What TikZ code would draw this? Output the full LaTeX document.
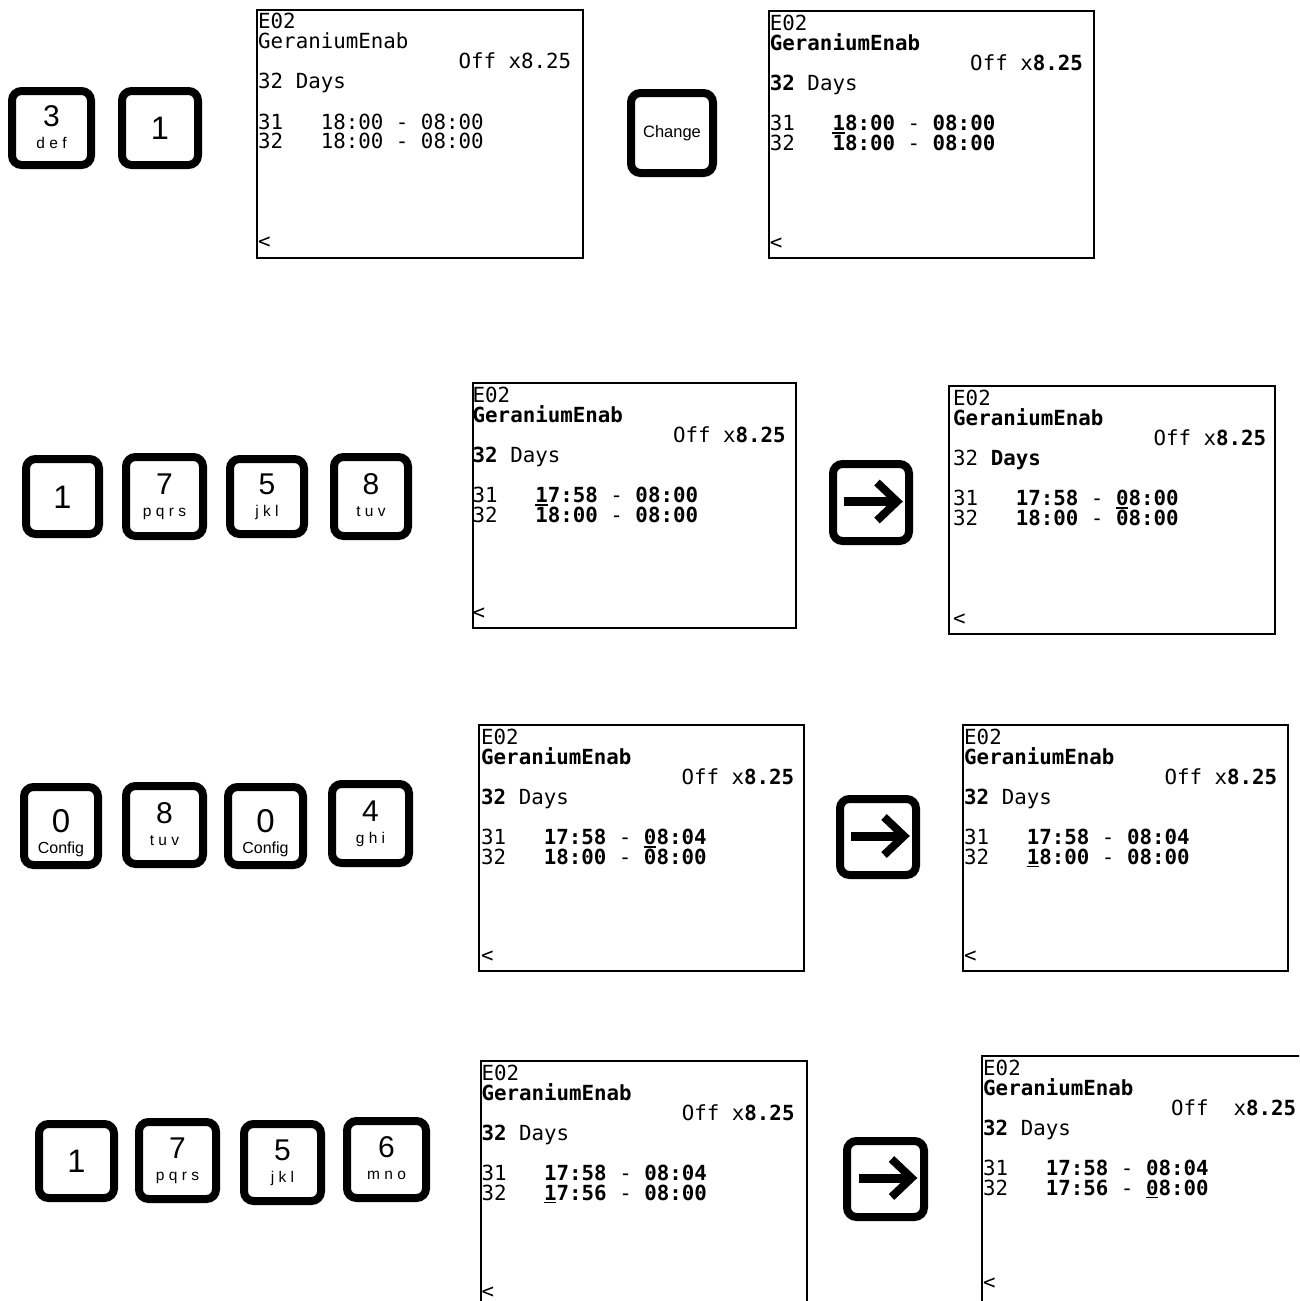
\documentclass[tikz,border=0pt]{standalone}
\usepackage{fontspec}
\newfontfamily\scrfont{DejaVu Sans Mono}
\newfontfamily\keyfont{Liberation Sans}
\def\cw{12.52}
\tikzset{
 screen/.style={draw, line width=2pt, anchor=north west, inner sep=0pt, fill=white},
 tl/.style={anchor=base west, inner sep=0pt, font=\scrfont\fontsize{20.8}{20.8}\selectfont},
 uline/.style={line width=1.6pt},
 keybox/.style={draw, line width=8pt, rounded corners=9.5pt, inner sep=0pt, fill=white},
 dig/.style={anchor=base, inner sep=0pt, font=\keyfont\fontsize{30}{30}\selectfont},
 bigdig/.style={anchor=base, inner sep=0pt, font=\keyfont\fontsize{32.5}{32.5}\selectfont},
 cdig/.style={anchor=base, inner sep=0pt, font=\keyfont\fontsize{33}{33}\selectfont},
 lett/.style={anchor=base, inner sep=0pt, font=\keyfont\fontsize{15.5}{15.5}\selectfont},
 ctext/.style={anchor=base, inner sep=0pt, font=\keyfont\fontsize{16}{16}\selectfont},
 shaft/.style={line width=9pt},
 chev/.style={line width=8pt, miter limit=10},
}
% key box: name x1 y1 x2 y2
\newcommand\mykeyat[5]{%
  \pgfmathsetmacro\mykw{#4-#2-8}\pgfmathsetmacro\mykh{#5-#3-8}%
  \node[keybox, minimum width=\mykw pt, minimum height=\mykh pt] (#1) at ({(#2+#4)/2},{(#3+#5)/2}) {};}
% lettered key
\newcommand\mylkey[7]{\mykeyat{#1}{#2}{#3}{#4}{#5}%
  \node[dig] (#1d) at ([shift={(0,-2)}]#1.center) {#6};
  \node[lett] (#1l) at ([shift={(0,20)}]#1.center) {#7};}
% digit only key
\newcommand\myokey[6]{\mykeyat{#1}{#2}{#3}{#4}{#5}%
  \node[bigdig] (#1d) at ([shift={(0,11.6)}]#1.center) {#6};}
% config key
\newcommand\myckey[5]{\mykeyat{#1}{#2}{#3}{#4}{#5}%
  \node[cdig] (#1d) at ([shift={(0,6)}]#1.center) {0};
  \node[ctext] (#1l) at ([shift={(0,27)}]#1.center) {Config};}
% arrow key
\newcommand\myakey[5]{\mykeyat{#1}{#2}{#3}{#4}{#5}%
  \draw[shaft] ([shift={(-27,-1)}]#1.center) -- ([shift={(24,-1)}]#1.center);
  \draw[chev] ([shift={(6,-20)}]#1.center) -- ([shift={(26,-1)}]#1.center) -- ([shift={(6,18)}]#1.center);}
\begin{document}
\begin{tikzpicture}[x=1pt,y=-1pt]
\useasboundingbox (0,0) rectangle (1299,1301);
\clip (0,0) rectangle (1299,1301);

% ---------- Row 1 ----------
\mylkey{ka3}{8}{87}{95}{169}{3}{d e f}
\myokey{ka1}{118}{87}{202}{169}{1}
\mykeyat{kchg}{627}{89}{717}{177}
\node[ctext] (kchgt) at ([shift={(0,4.5)}]kchg.center) {\fontsize{16.5}{16.5}\selectfont Change};

\node[screen, minimum width=326pt, minimum height=248pt] (s1) at (256,8.5) {};
\begin{scope}[shift={(258,8.5)}]
 \node[tl] (s1a) at (0,20) {E02};
 \node[tl] (s1b) at (0,40) {GeraniumEnab};
 \node[tl] (s1c) at (16*\cw,60) {Off x8.25};
 \node[tl] (s1d) at (0,80) {32 Days};
 \node[tl] (s1e) at (0,120.5) {31~~~18:00 - 08:00};
 \node[tl] (s1f) at (0,140) {32~~~18:00 - 08:00};
 \node[tl] (s1g) at (0,240) {<};
\end{scope}

\node[screen, minimum width=325pt, minimum height=247pt] (s2) at (768,10) {};
\begin{scope}[shift={(769.7,10)}]
 \node[tl] (s2a) at (0,20) {E02};
 \node[tl] (s2b) at (0,40) {\textbf{GeraniumEnab}};
 \node[tl] (s2c) at (16*\cw,60) {Off x\textbf{8.25}};
 \node[tl] (s2d) at (0,80) {\textbf{32} Days};
 \node[tl] (s2e) at (0,120.5) {31~~~\textbf{18:00} - \textbf{08:00}};
 \node[tl] (s2f) at (0,140) {32~~~\textbf{18:00} - \textbf{08:00}};
 \node[tl] (s2g) at (0,239) {<};
 \draw[uline] (5*\cw,123) -- (6*\cw,123);
\end{scope}

% ---------- Row 2 ----------
\myokey{kb1}{22}{455}{103}{538}{1}
\mylkey{kb7}{122}{453}{207}{540}{7}{p q r s}
\mylkey{kb5}{226}{455}{308}{538}{5}{j k l}
\mylkey{kb8}{330}{453}{412}{540}{8}{t u v}

\node[screen, minimum width=323pt, minimum height=245pt] (s3) at (472,382) {};
\begin{scope}[shift={(472.5,382)}]
 \node[tl] (s3a) at (0,20) {E02};
 \node[tl] (s3b) at (0,40) {\textbf{GeraniumEnab}};
 \node[tl] (s3c) at (16*\cw,60) {Off x\textbf{8.25}};
 \node[tl] (s3d) at (0,80) {\textbf{32} Days};
 \node[tl] (s3e) at (0,120.5) {31~~~\textbf{17:58} - \textbf{08:00}};
 \node[tl] (s3f) at (0,140) {32~~~\textbf{18:00} - \textbf{08:00}};
 \node[tl] (s3g) at (0,237) {<};
 \draw[uline] (5*\cw,123) -- (6*\cw,123);
\end{scope}

\myakey{kba}{829}{460}{913}{545}

\node[screen, minimum width=326pt, minimum height=248pt] (s4) at (948,385) {};
\begin{scope}[shift={(953,385)}]
 \node[tl] (s4a) at (0,20) {E02};
 \node[tl] (s4b) at (0,40) {\textbf{GeraniumEnab}};
 \node[tl] (s4c) at (16*\cw,60) {Off x\textbf{8.25}};
 \node[tl] (s4d) at (0,80) {32 \textbf{Days}};
 \node[tl] (s4e) at (0,120.5) {31~~~\textbf{17:58} - \textbf{08:00}};
 \node[tl] (s4f) at (0,140) {32~~~\textbf{18:00} - \textbf{08:00}};
 \node[tl] (s4g) at (0,240) {<};
 \draw[uline] (13*\cw,123) -- (14*\cw,123);
\end{scope}

% ---------- Row 3 ----------
\myckey{kc0}{20}{783}{102}{869}
\mylkey{kc8}{122}{782}{207}{868}{8}{t u v}
\myckey{kc0b}{224}{783}{307}{869}
\mylkey{kc4}{328}{780}{413}{867}{4}{g h i}

\node[screen, minimum width=325pt, minimum height=246pt] (s5) at (478,724) {};
\begin{scope}[shift={(481,724)}]
 \node[tl] (s5a) at (0,20) {E02};
 \node[tl] (s5b) at (0,40) {\textbf{GeraniumEnab}};
 \node[tl] (s5c) at (16*\cw,60) {Off x\textbf{8.25}};
 \node[tl] (s5d) at (0,80) {\textbf{32} Days};
 \node[tl] (s5e) at (0,120.5) {31~~~\textbf{17:58} - \textbf{08:04}};
 \node[tl] (s5f) at (0,140) {32~~~\textbf{18:00} - \textbf{08:00}};
 \node[tl] (s5g) at (0,238) {<};
 \draw[uline] (13*\cw,123) -- (14*\cw,123);
\end{scope}

\myakey{kca}{836}{795}{920}{879}

\node[screen, minimum width=325pt, minimum height=246pt] (s6) at (962,724) {};
\begin{scope}[shift={(964,724)}]
 \node[tl] (s6a) at (0,20) {E02};
 \node[tl] (s6b) at (0,40) {\textbf{GeraniumEnab}};
 \node[tl] (s6c) at (16*\cw,60) {Off x\textbf{8.25}};
 \node[tl] (s6d) at (0,80) {\textbf{32} Days};
 \node[tl] (s6e) at (0,120.5) {31~~~\textbf{17:58} - \textbf{08:04}};
 \node[tl] (s6f) at (0,140) {32~~~\textbf{18:00} - \textbf{08:00}};
 \node[tl] (s6g) at (0,238) {<};
 \draw[uline] (5*\cw,142.5) -- (6*\cw,142.5);
\end{scope}

% ---------- Row 4 ----------
\myokey{kd1}{35}{1120}{118}{1202}{1}
\mylkey{kd7}{135}{1118}{220}{1203}{7}{p q r s}
\mylkey{kd5}{240}{1120}{325}{1205}{5}{j k l}
\mylkey{kd6}{343}{1117}{430}{1202}{6}{m n o}

\node[screen, minimum width=326pt, minimum height=246pt] (s7) at (480,1060) {};
\begin{scope}[shift={(481.3,1060)}]
 \node[tl] (s7a) at (0,20) {E02};
 \node[tl] (s7b) at (0,40) {\textbf{GeraniumEnab}};
 \node[tl] (s7c) at (16*\cw,60) {Off x\textbf{8.25}};
 \node[tl] (s7d) at (0,80) {\textbf{32} Days};
 \node[tl] (s7e) at (0,120.5) {31~~~\textbf{17:58} - \textbf{08:04}};
 \node[tl] (s7f) at (0,140) {32~~~\textbf{17:56} - \textbf{08:00}};
 \node[tl] (s7g) at (0,238) {<};
 \draw[uline] (5*\cw,142.5) -- (6*\cw,142.5);
\end{scope}

\myakey{kda}{843}{1137}{928}{1221}

\node[screen, minimum width=326pt, minimum height=246pt] (s8) at (981,1055) {};
\begin{scope}[shift={(983,1055)}]
 \node[tl] (s8a) at (0,20) {E02};
 \node[tl] (s8b) at (0,40) {\textbf{GeraniumEnab}};
 \node[tl] (s8c) at (15*\cw,60) {Off~~x\textbf{8.25}};
 \node[tl] (s8d) at (0,80) {\textbf{32} Days};
 \node[tl] (s8e) at (0,120.5) {31~~~\textbf{17:58} - \textbf{08:04}};
 \node[tl] (s8f) at (0,140) {32~~~\textbf{17:56} - \textbf{08:00}};
 \node[tl] (s8g) at (0,234) {<};
 \draw[uline] (13*\cw,142.5) -- (14*\cw,142.5);
\end{scope}
\end{tikzpicture}
\end{document}
